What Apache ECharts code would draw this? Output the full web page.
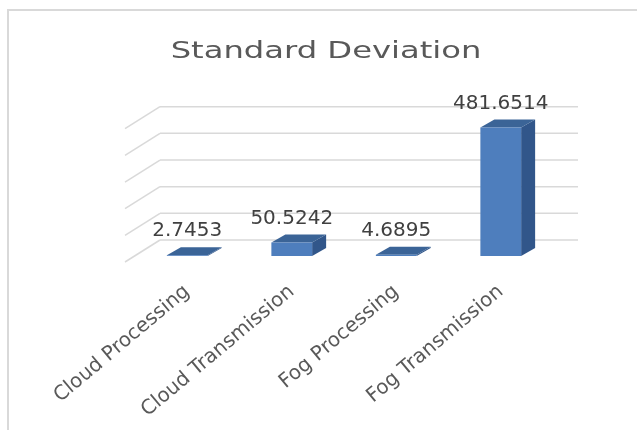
<!DOCTYPE html>
<html><head><meta charset="utf-8">
<script src="https://cdn.jsdelivr.net/npm/echarts@6/dist/echarts.min.js"></script>
<style>html,body{margin:0;padding:0;background:#fff}#c{width:637px;height:430px}</style>
</head><body><div id="c"></div>
<script>
const categories = ['Cloud Processing', 'Cloud Transmission', 'Fog Processing', 'Fog Transmission'];
const values = [2.7453, 50.5242, 4.6895, 481.6514];
const gridValues = [0, 100, 200, 300, 400, 500];
const titleText = 'Standard Deviation';

const BACK = [25, -16];   // back wall offset from bar front plane
const FRONT = [-10, 6];   // floor front edge offset
const DEPTH = [14, -8];   // bar depth
const BAR_RATIO = 0.39;
const WALL = '#d9d9d9';

function wallItem(params, api) {
  const v = api.value(1);
  const y = api.coord([0, v])[1];
  const cs = params.coordSys;
  const x0 = cs.x + BACK[0], x1 = cs.x + cs.width + BACK[0], yb = y + BACK[1];
  return {type: 'group', children: [
    {type: 'line', shape: {x1: x0, y1: yb, x2: x1, y2: yb}, style: {stroke: WALL, lineWidth: 1.5}},
    {type: 'line', shape: {x1: x0, y1: yb, x2: cs.x + FRONT[0], y2: y + FRONT[1]}, style: {stroke: WALL, lineWidth: 1.5}}
  ]};
}

function barItem(params, api) {
  const i = api.value(0), v = api.value(1);
  const base = api.coord([i, 0]), top = api.coord([i, v]);
  const w = api.size([1, 0])[0] * BAR_RATIO;
  const xl = base[0] - w / 2, xr = base[0] + w / 2, yb = base[1], yt = top[1];
  const dx = DEPTH[0], dy = DEPTH[1];
  return {type: 'group', children: [
    {type: 'polygon', shape: {points: [[xr, yt], [xr + dx, yt + dy], [xr + dx, yb + dy], [xr, yb]]}, style: {fill: '#31568A'}},
    {type: 'polygon', shape: {points: [[xl, yt], [xl + dx, yt + dy], [xr + dx, yt + dy], [xr, yt]]}, style: {fill: '#3B6497'}},
    {type: 'rect', shape: {x: xl, y: yt, width: w, height: Math.max(yb - yt, 0.5)}, style: {fill: '#4E7EBD'}},
    {type: 'text', style: {text: String(values[params.dataIndex]), x: base[0], y: yt + dy - 6,
      align: 'center', verticalAlign: 'bottom', fontFamily: 'DejaVu Sans', fontSize: 20, fill: '#404040'}}
  ]};
}

const chart = echarts.init(document.getElementById('c'));
chart.setOption({
  animation: false,
  backgroundColor: '#fff',
  graphic: [
    {type: 'rect', silent: true, z: -10,
      shape: {x: 8, y: 10, width: 700, height: 500},
      style: {fill: 'none', stroke: '#d9d9d9', lineWidth: 2}},
    {type: 'text', x: 326, y: 52.5, scaleX: 1.4, silent: true,
      style: {text: titleText, x: 0, y: 0, align: 'center', verticalAlign: 'middle',
        fontFamily: 'DejaVu Sans', fontSize: 23, fill: '#595959'}}
  ],
  grid: {left: 135, right: 84, top: 122.7, bottom: 174},
  xAxis: {type: 'category', data: categories,
    axisLine: {show: false}, axisTick: {show: false}, splitLine: {show: false},
    axisLabel: {rotate: 40, margin: 33, interval: 0, fontFamily: 'DejaVu Sans', fontSize: 20, color: '#595959'}},
  yAxis: {type: 'value', min: 0, max: 500, interval: 100, show: false, splitLine: {show: false}},
  series: [
    {type: 'custom', name: 'walls', data: gridValues.map(v => [0, v]), renderItem: wallItem, silent: true, z: 1},
    {type: 'custom', name: 'Standard Deviation', data: values.map((v, i) => [i, v]), renderItem: barItem, z: 2}
  ]
});
</script></body></html>
